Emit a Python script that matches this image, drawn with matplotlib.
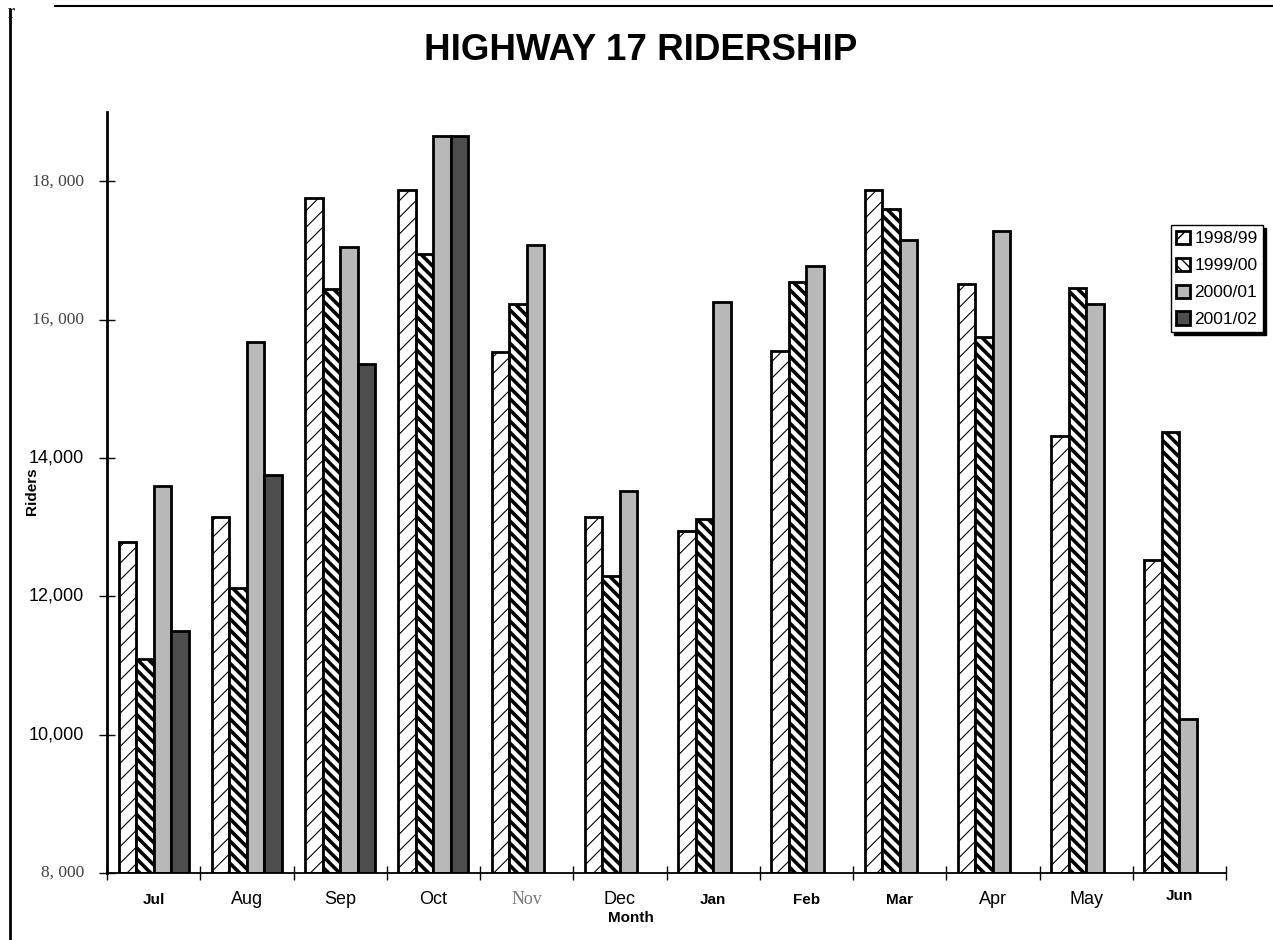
import matplotlib
matplotlib.use('Agg')
import matplotlib.pyplot as plt
import matplotlib.transforms as mtransforms
from matplotlib.lines import Line2D
import numpy as np

months = ['Jul', 'Aug', 'Sep', 'Oct', 'Nov', 'Dec', 'Jan', 'Feb', 'Mar', 'Apr', 'May', 'Jun']
seasons = ['1998/99', '1999/00', '2000/01', '2001/02']

riders_9899 = [12780, 13150, 17750, 17870, 15525, 13140, 12940, 15540, 17870, 16510, 14310, 12530]
riders_9900 = [11090, 12120, 16440, 16950, 16220, 12290, 13115, 16545, 17600, 15750, 16450, 14380]
riders_0001 = [13600, 15670, 17050, 18660, 17080, 13520, 16260, 16770, 17150, 17280, 16220, 10230]
riders_0102 = [11500, 13750, 15360, 18660, np.nan, np.nan, np.nan, np.nan, np.nan, np.nan, np.nan, np.nan]

ytick_vals = [8000, 10000, 12000, 14000, 16000, 18000]
ytick_text = ['8, 000', '10,000', '12,000', '14,000', '16, 000', '18, 000']

# odd mix of fonts like in the scanned original
ytick_serif = [True, False, False, False, True, True]
xlab_style = ['bold', 'normal', 'normal', 'normal', 'serif', 'normal',
              'bold', 'bold', 'bold', 'normal', 'normal', 'bold']

plt.rcParams['font.family'] = ['Liberation Sans', 'DejaVu Sans']

fig = plt.figure(figsize=(12.73, 9.4), dpi=100)
ax = fig.add_axes([107 / 1273, 1 - 873 / 940, (1226 - 107) / 1273, (873 - 112) / 940])

x = np.arange(len(months))
w = 0.188
series = [riders_9899, riders_9900, riders_0001, riders_0102]
styles = [
    dict(color='white', hatch='//', hlw=0.8),
    dict(color='white', hatch='\\\\\\', hlw=2.6),
    dict(color='#b8b8b8', hatch=None, hlw=1.0),
    dict(color='#4e4e4e', hatch=None, hlw=1.0),
]

handles = []
for k, (vals, st) in enumerate(zip(series, styles)):
    plt.rcParams['hatch.linewidth'] = st['hlw']
    bars = ax.bar(x + (k - 1.5) * w, np.array(vals) - 8000, w, bottom=8000,
                  color=st['color'], edgecolor='black', linewidth=2.0,
                  hatch=st['hatch'], label=seasons[k])
    for b in bars:
        if hasattr(b, 'set_hatch_linewidth'):
            b.set_hatch_linewidth(st['hlw'])
    handles.append(bars)

ax.set_xlim(-0.5, 11.5)
ax.set_ylim(8000, 19000)

ax.spines['top'].set_visible(False)
ax.spines['right'].set_visible(False)
ax.spines['left'].set_linewidth(2.0)
ax.spines['bottom'].set_linewidth(1.3)

ax.set_xticks(np.arange(-0.5, 12.0, 1.0))
ax.set_xticklabels([])
ax.tick_params(axis='x', direction='inout', length=10, width=1.0)
ax.set_yticks(ytick_vals)
ax.set_yticklabels([])
ax.tick_params(axis='y', direction='inout', length=12, width=1.0)

# y tick labels
ytr = mtransforms.blended_transform_factory(fig.transFigure, ax.transData)
for v, t, serif in zip(ytick_vals, ytick_text, ytick_serif):
    if serif:
        ax.text(84 / 1273, v, t, transform=ytr, ha='right', va='center',
                fontsize=12.5, family=['Liberation Serif', 'DejaVu Serif'], color='#444444')
    else:
        ax.text(84 / 1273, v, t, transform=ytr, ha='right', va='center',
                fontsize=13)

# x tick labels
xtr = mtransforms.blended_transform_factory(ax.transData, fig.transFigure)
for i, (m, s) in enumerate(zip(months, xlab_style)):
    yy = 1 - 900 / 940
    if m == 'Jun':
        yy = 1 - 896 / 940
    if s == 'bold':
        ax.text(i, yy, m, transform=xtr, ha='center', va='center', fontsize=11, fontweight='bold')
    elif s == 'serif':
        ax.text(i, yy, m, transform=xtr, ha='center', va='center', fontsize=13,
                family=['Liberation Serif', 'DejaVu Serif'], color='#777777')
    else:
        ax.text(i, yy, m, transform=xtr, ha='center', va='center', fontsize=13)

fig.text(631 / 1273, 1 - 918 / 940, 'Month', ha='center', va='center', fontsize=11, fontweight='bold')
fig.text(32 / 1273, 1 - 491 / 940, 'Riders', ha='center', va='center', fontsize=11,
         fontweight='bold', rotation=90)

fig.text(641 / 1273, 1 - 50 / 940, 'HIGHWAY 17 RIDERSHIP', ha='center', va='center',
         fontsize=26.5, fontweight='bold')

# page frame from the scan
fig.add_artist(Line2D([55 / 1273, 1.0], [1 - 6 / 940, 1 - 6 / 940], color='black', linewidth=1.5,
                      transform=fig.transFigure))
fig.add_artist(Line2D([10 / 1273, 10 / 1273], [0, 1 - 10 / 940], color='black', linewidth=2.0,
                      transform=fig.transFigure))
fig.text(8 / 1273, 1 - 14 / 940, 'r', ha='left', va='center', fontsize=15,
         family=['Liberation Serif', 'DejaVu Serif'])

leg = ax.legend(handles=handles, loc='upper left', bbox_to_anchor=(0.951, 0.851),
                borderaxespad=0, fontsize=12.5, handlelength=0.8, handleheight=0.8,
                handletextpad=0.25, labelspacing=0.65, borderpad=0.3,
                fancybox=False, shadow={'color': 'black', 'alpha': 1.0}, frameon=True)
leg.get_frame().set_edgecolor('black')
leg.get_frame().set_linewidth(1.0)

fig.savefig('out.png', dpi=100)
